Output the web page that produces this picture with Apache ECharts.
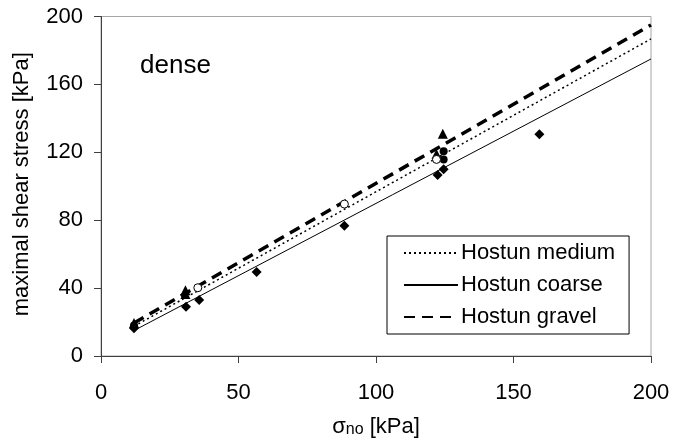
<!DOCTYPE html>
<html>
<head>
<meta charset="utf-8">
<script src="https://cdn.jsdelivr.net/npm/echarts@6/dist/echarts.min.js"></script>
<style>html,body{margin:0;padding:0;background:#fff}#c{width:674px;height:443px}</style>
</head>
<body>
<div id="c"></div>
<script>
// Fitted lines (endpoints)
const mediumLine = [[12, 17.5], [200, 186.8]];
const coarseLine = [[12, 15], [200, 175]];
const gravelLine = [[12, 19.5], [200, 195]];

// Measured points
const mediumPts = [[35.2, 40.2], [88.5, 89.5], [122, 115.8]];
const coarsePts = [[12, 16.4], [30.9, 29], [35.7, 33], [56.6, 49.5], [88.5, 76.8], [122.4, 106.6], [124.6, 110], [159.4, 130.7]];
const otherPts = [[124.6, 120.6], [124.6, 115.8], [12, 18]];
const gravelPts = [[12, 19.5], [30.7, 38.8], [30.7, 36.5], [124.3, 131], [122, 119]];

const seriesNames = ['Hostun medium', 'Hostun coarse', 'Hostun gravel'];
const xTicks = {min: 0, max: 200, interval: 50};
const yTicks = {min: 0, max: 200, interval: 40};

const FONT = "'Liberation Sans', Arial, sans-serif";
const chart = echarts.init(document.getElementById('c'), null, {renderer: 'canvas'});

chart.setOption({
  animation: false,
  backgroundColor: '#fff',
  grid: {left: 101, top: 16.5, width: 550, height: 342, show: true, borderColor: '#a6a6a6', borderWidth: 1, backgroundColor: 'transparent'},
  graphic: [{type: 'text', left: 140, top: 53, style: {text: 'dense', font: '26px ' + FONT, fill: '#000'}}],
  legend: {
    data: seriesNames,
    orient: 'vertical',
    left: 387, top: 236,
    padding: [6, 14, 6, 16],
    borderColor: '#000', borderWidth: 1,
    itemWidth: 54, itemHeight: 14, itemGap: 10,
    itemStyle: {opacity: 0, color: 'transparent', borderWidth: 0},
    textStyle: {fontFamily: FONT, fontSize: 22, lineHeight: 22, color: '#000', padding: [0, 0, 0, -2]},
    backgroundColor: '#fff'
  },
  xAxis: {
    type: 'value', min: xTicks.min, max: xTicks.max, interval: xTicks.interval,
    splitLine: {show: false},
    axisLine: {show: true, onZero: false, lineStyle: {color: '#404040', width: 1}},
    axisTick: {show: true, inside: false, length: 7, lineStyle: {color: '#404040'}},
    axisLabel: {fontFamily: FONT, fontSize: 22, color: '#000', margin: 26},
    name: '{s|σ}{sub|no}{t| [kPa]}',
    nameLocation: 'middle', nameGap: 60,
    nameTextStyle: {
      fontFamily: FONT, color: '#000',
      rich: {
        s: {fontFamily: FONT, fontSize: 22, lineHeight: 22, verticalAlign: 'top', color: '#000'},
        sub: {fontFamily: FONT, fontSize: 16, lineHeight: 16, verticalAlign: 'bottom', padding: [10, 0, 0, 0], color: '#000'},
        t: {fontFamily: FONT, fontSize: 22, lineHeight: 22, verticalAlign: 'top', color: '#000'}
      }
    }
  },
  yAxis: {
    type: 'value', min: yTicks.min, max: yTicks.max, interval: yTicks.interval,
    splitLine: {show: false},
    axisLine: {show: true, onZero: false, lineStyle: {color: '#404040', width: 1}},
    axisTick: {show: true, inside: false, length: 7, lineStyle: {color: '#404040'}},
    axisLabel: {fontFamily: FONT, fontSize: 22, color: '#000', margin: 18},
    name: 'maximal shear stress [kPa]',
    nameLocation: 'middle', nameGap: 68,
    nameTextStyle: {fontFamily: FONT, fontSize: 22, color: '#000', padding: [0, 0, 0, 4]}
  },
  series: [
    {name: seriesNames[0], type: 'line', data: mediumLine, symbol: 'none', z: 2,
     lineStyle: {color: '#000', width: 1.5, type: [2, 3]}, itemStyle: {color: '#000'}},
    {name: seriesNames[1], type: 'line', data: coarseLine, symbol: 'none', z: 2,
     lineStyle: {color: '#000', width: 1, type: 'solid'}, itemStyle: {color: '#000'}},
    {name: seriesNames[2], type: 'line', data: gravelLine, symbol: 'none', z: 2,
     lineStyle: {color: '#000', width: 3.5, type: [11, 7]}, itemStyle: {color: '#000'}},
    {name: 'coarse pts', type: 'scatter', data: coarsePts, symbol: 'diamond', symbolSize: 10, z: 3,
     itemStyle: {color: '#000', opacity: 1}},
    {name: 'other pts', type: 'scatter', data: otherPts, symbol: 'circle', symbolSize: 8, z: 3,
     itemStyle: {color: '#000', opacity: 1}},
    {name: 'gravel pts', type: 'scatter', data: gravelPts, symbol: 'triangle', symbolSize: 10, z: 4,
     itemStyle: {color: '#000', opacity: 1}},
    {name: 'medium pts', type: 'scatter', data: mediumPts, symbol: 'circle', symbolSize: 8, z: 5,
     itemStyle: {color: '#fff', borderColor: '#000', borderWidth: 1, opacity: 1}}
  ]
});
</script>
</body>
</html>
